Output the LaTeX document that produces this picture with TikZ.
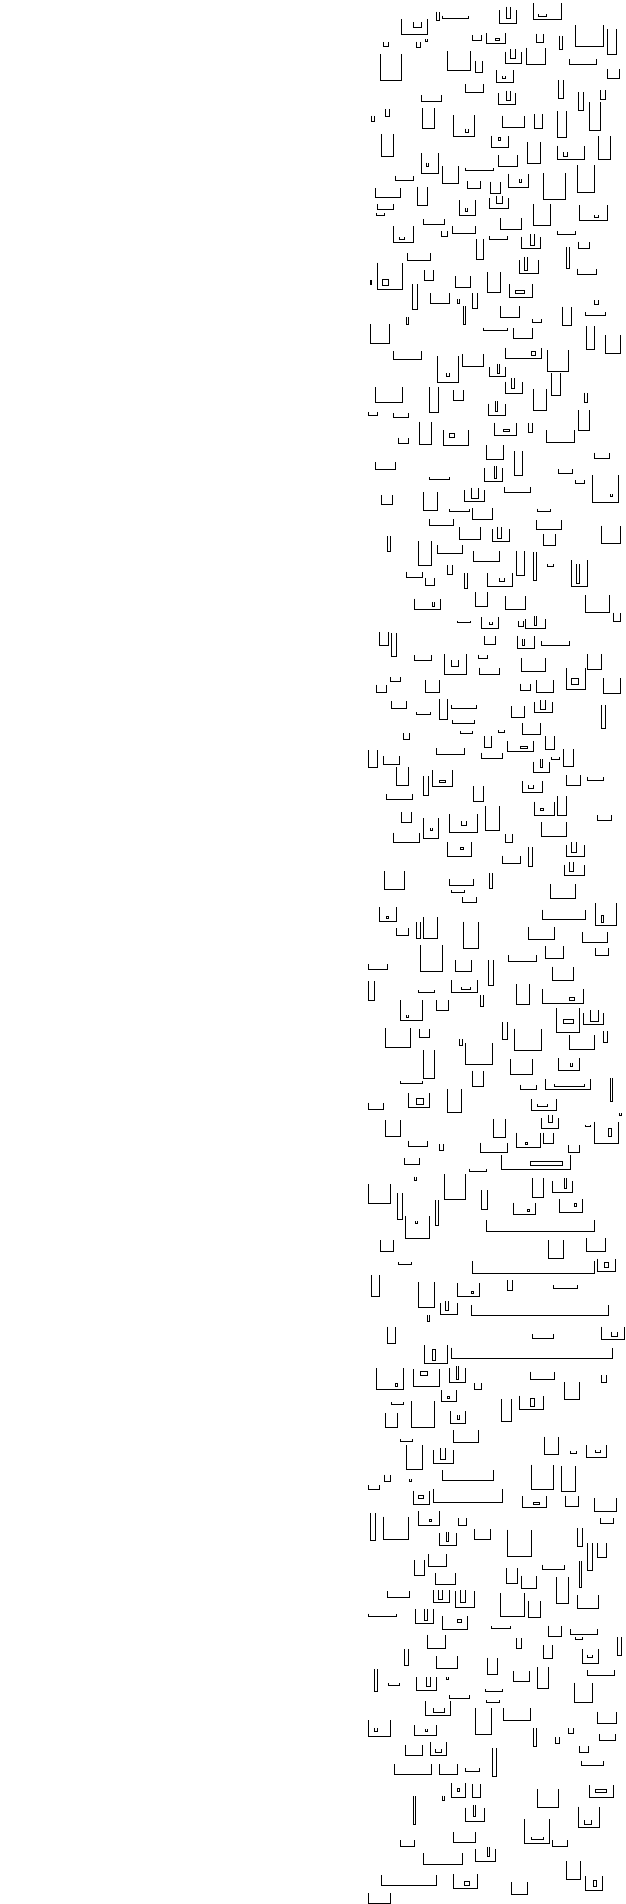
\documentclass[tikz,border=0pt]{standalone}
\usepackage{tikz}

\begin{document}
\begin{tikzpicture}[
  % --- styles ------------------------------------------------------------
  cupline/.style={draw, line width=1pt, line join=miter},
  band/.style={scale=1/3},
  x=1pt, y=-1pt
]
\useasboundingbox (0,0) rectangle (625,1904);

% --------------------- band 1 (top) -------------------------------------
\begin{scope}[shift={(370,0)}, band]
\foreach \xa/\ya/\xb/\yb in {199/35/209/61, 217/47/295/55, 94/57/172/103, 130/66/155/82,
  388/30/440/70, 408/20/421/55, 490/10/575/58, 505/42/530/48, 40/127/56/139,
  138/125/152/142, 166/118/172/125, 307/105/335/121, 349/100/407/130, 499/101/521/127,
  568/107/578/148, 616/75/700/139, 712/88/740/162, 31/162/95/241, 232/154/301/211,
  316/182/338/217, 406/155/454/190, 420/147/437/175, 469/143/527/193, 598/178/680/193,
  712/208/748/235, 379/211/430/246, 397/228/407/236, 286/252/340/277, 565/240/581/295,
  154/285/215/304, 385/280/437/313, 409/272/420/300, 625/277/640/331, 691/270/707/298,
  658/307/690/391, 4/347/14/364, 46/328/59/349, 157/324/193/384, 250/346/313/408,
  287/386/296/397, 397/347/463/382, 493/343/518/384, 562/333/590/411, 34/403/71/468,
  364/407/415/442, 472/427/512/490, 562/437/643/477, 580/457/593/469, 685/409/722/477,
  154/460/205/519, 169/488/176/499, 385/465/442/498, 217/498/266/549, 286/503/371/511,
  76/527/131/541, 292/543/331/564, 415/521/475/563, 447/537/455/547, 622/495/672/578,
  361/545/390/580}
  \draw[cupline] (\xa,\ya) |- (\xb,\yb) -- (\xb,\ya);
\foreach \xa/\ya/\xb/\yb in {376/115/388/121, 385/413/392/420}
  \draw[cupline] (\xa,\ya) rectangle (\xb,\yb);
\end{scope}

% --------------------- band 2 -------------------------------------------
\begin{scope}[shift={(370,190)}, band]
\foreach \xa/\ya/\xb/\yb in {16/-5/92/22, 142/-10/172/46, 520/-50/586/28, 22/42/71/58,
  19/69/44/77, 268/30/317/76, 286/54/293/64, 358/25/415/55, 379/17/397/40,
  490/43/542/106, 628/46/713/91, 673/75/686/82, 160/88/223/103, 391/84/455/119,
  70/108/130/157, 88/141/104/148, 214/124/233/139, 247/109/317/130, 358/138/413/148,
  454/140/511/175, 481/132/493/166, 562/123/617/133, 625/155/659/175, 319/147/341/208,
  589/172/599/235, 112/190/182/211, 448/210/506/250, 464/201/472/241, 622/236/680/253,
  22/218/97/297, 0/270/5/283, 163/240/191/271, 256/258/302/292, 352/246/392/307,
  418/283/488/322, 127/283/143/358, 181/309/239/340, 262/327/269/340, 307/310/323/354,
  280/349/287/403, 109/381/116/403, 391/348/449/382, 487/388/515/397, 577/350/605/406,
  673/331/686/343, 646/367/707/376, 0/402/59/460, 340/413/413/421, 430/414/488/445,
  649/408/673/478, 706/436/752/490, 70/484/155/508, 406/473/515/505, 532/480/596/544,
  202/498/266/577, 229/549/239/559, 277/492/341/529, 358/531/407/558, 381/521/389/549}
  \draw[cupline] (\xa,\ya) |- (\xb,\yb) -- (\xb,\ya);
\foreach \xa/\ya/\xb/\yb in {37/268/55/286, 436/301/464/309, 484/484/496/496}
  \draw[cupline] (\xa,\ya) rectangle (\xb,\yb);
\end{scope}

% --------------------- band 3 -------------------------------------------
\begin{scope}[shift={(370,380)}, band]
\foreach \xa/\ya/\xb/\yb in {406/5/458/40, 424/-5/434/25, 544/-20/572/46, 16/22/98/67,
  178/22/206/97, 250/30/281/61, 490/28/530/91, 643/38/651/67, 355/71/407/106,
  375/63/383/95, -6/97/23/106, 70/100/116/112, 625/90/659/151, 148/125/185/193,
  220/151/296/196, 373/128/440/166, 475/130/486/158, 529/151/614/187, 85/173/116/189,
  349/196/401/238, 433/213/458/286, 673/218/719/235, 16/246/77/268, 178/292/239/298,
  343/264/398/303, 372/258/380/296, 565/268/608/280, 616/300/644/311, 667/286/746/367,
  720/342/728/350, 403/322/482/337, 34/346/68/373, 160/337/203/390, 283/330/344/364,
  303/323/326/354, 238/387/297/394, 307/384/368/418, 502/386/542/394, 178/417/251/436,
  499/420/575/448, 268/441/332/478, 367/448/419/484, 381/440/395/475, 520/463/557/496,
  694/437/752/490, 52/468/62/514, 145/483/185/555, 202/495/278/520, 310/513/389/544,
  532/553/551/560}
  \draw[cupline] (\xa,\ya) |- (\xb,\yb) -- (\xb,\ya);
\foreach \xa/\ya/\xb/\yb in {238/159/254/172, 400/148/418/155}
  \draw[cupline] (\xa,\ya) rectangle (\xb,\yb);
\end{scope}

% --------------------- band 4 -------------------------------------------
\begin{scope}[shift={(370,570)}, band]
\foreach \xa/\ya/\xb/\yb in {109/5/157/22, 166/25/194/46, 232/-15/248/14, 283/10/293/55,
  352/10/428/49, 388/25/403/34, 439/-58/463/16, 490/-53/500/31, 604/-30/653/49,
  619/-18/627/40, 133/86/212/118, 186/96/194/110, 316/67/353/109, 406/78/467/118,
  646/75/719/127, 730/128/750/155, 262/152/302/158, 334/142/386/176, 358/156/368/163,
  445/153/459/170, 465/147/527/176, 493/138/500/166, 28/187/54/226, 64/190/80/260,
  343/198/377/224, 442/197/494/236, 456/208/464/226, 514/214/599/227, 133/256/185/271,
  223/253/290/313, 244/270/266/290, 325/254/353/265, 328/293/389/313, 454/265/527/304,
  652/252/695/298, 61/322/92/334, 19/344/50/368, 166/331/209/368, 451/341/482/362,
  499/331/551/368, 590/295/645/358, 700/324/752/370, 64/393/110/415, 139/427/182/434,
  208/388/233/448, 244/405/320/415, 424/408/464/442, 493/397/548/427, 511/390/526/418,
  694/406/707/475, 247/451/314/461, 271/482/308/490, 385/481/402/488, 457/459/512/493,
  100/490/119/508, 343/498/365/532, 412/514/491/544, 526/499/554/538, 199/535/284/553,
  334/548/398/566, 545/562/567/568}
  \draw[cupline] (\xa,\ya) |- (\xb,\yb) -- (\xb,\ya);
\foreach \xa/\ya/\xb/\yb in {604/326/626/343, 451/529/473/535}
  \draw[cupline] (\xa,\ya) rectangle (\xb,\yb);
\end{scope}

% --------------------- band 5 -------------------------------------------
\begin{scope}[shift={(370,760)}, band]
\foreach \xa/\ya/\xb/\yb in {-6/-30/22/22, 40/-12/89/14, 490/5/538/38, 511/-3/518/22,
  580/-33/611/20, 79/22/116/76, 160/48/176/106, 187/31/248/79, 49/103/128/118,
  310/78/341/124, 457/63/518/97, 475/75/491/86, 589/45/632/76, 652/50/701/61,
  493/125/553/166, 562/108/590/166, 682/166/725/181, 94/157/123/187, 160/175/206/235,
  181/204/188/212, 238/162/323/216, 273/183/288/197, 346/138/389/211, 406/223/428/247,
  70/218/148/247, 514/186/590/229, 232/247/304/289, 397/287/452/310, 475/262/488/319,
  589/255/644/289, 604/246/620/277, 583/314/644/346, 598/306/610/334, 43/333/104/388,
  238/357/311/376, 358/339/368/385, 244/390/284/397, 277/411/320/427, 541/372/617/415,
  28/442/80/484, 517/449/647/478, 676/430/740/495, 79/505/116/527, 139/487/151/535,
  160/472/203/535, 280/485/326/565, 475/502/553/538, 637/517/713/547}
  \draw[cupline] (\xa,\ya) |- (\xb,\yb) -- (\xb,\ya);
\foreach \xa/\ya/\xb/\yb in {208/61/227/67, 511/145/521/152, 271/262/281/268,
  49/468/56/475, 694/466/700/487}
  \draw[cupline] (\xa,\ya) rectangle (\xb,\yb);
\end{scope}

% --------------------- band 6 -------------------------------------------
\begin{scope}[shift={(370,950)}, band]
\foreach \xa/\ya/\xb/\yb in {151/-14/217/64, 415/15/499/34, 526/-12/580/25, 676/-5/716/16,
  -6/43/52/58, 256/30/305/64, 355/30/371/106, 547/50/611/91, -6/93/14/151,
  145/120/194/128, 244/91/323/127, 273/112/302/118, 439/102/479/163, 517/118/640/160,
  331/135/341/169, 91/150/158/211, 108/195/116/203, 199/150/236/181, 559/175/629/247,
  640/189/701/222, 660/180/684/214, 46/234/122/292, 148/237/179/262, 397/217/413/268,
  268/267/278/286, 286/280/368/343, 433/236/515/301, 598/256/674/298, 700/243/713/277,
  160/300/194/385, 421/327/488/373, 565/325/629/361, 600/340/608/350, 307/362/341/409,
  91/394/158/400, 451/404/499/418, 526/387/662/418, 553/402/643/409, 721/385/728/453,
  -6/458/40/478, 115/429/179/472, 232/418/275/487, 484/448/560/481, 502/463/533/469,
  748/490/755/497, 514/504/566/535, 535/494/548/518, 646/524/660/530, 673/515/746/581,
  46/510/91/559, 370/507/407/563}
  \draw[cupline] (\xa,\ya) |- (\xb,\yb) -- (\xb,\ya);
\foreach \xa/\ya/\xb/\yb in {598/142/614/152, 580/208/610/220, 139/445/161/463,
  715/535/725/560}
  \draw[cupline] (\xa,\ya) rectangle (\xb,\yb);
\end{scope}

% --------------------- band 7 -------------------------------------------
\begin{scope}[shift={(370,1140)}, band]
\foreach \xa/\ya/\xb/\yb in {116/2/172/19, 208/12/220/31, 331/8/413/37, 439/-22/511/22,
  519/-22/550/10, 595/15/629/37, 103/55/149/73, 298/86/350/95, 395/45/602/88,
  133/110/140/122, 223/102/287/178, 487/114/521/172, 547/123/608/157, 583/115/590/146,
  -6/133/62/189, 82/160/98/238, 196/181/206/256, 334/151/353/208, 430/188/497/223,
  568/178/638/217, 106/228/179/295, 135/243/143/251, 349/240/674/274, 31/300/71/334,
  535/300/581/355, 649/294/707/334, 85/367/125/374, 307/363/674/400, 682/356/737/394,
  4/406/29/468, 412/420/428/451, 550/436/623/446, 145/427/194/502, 262/430/329/469,
  211/490/263/522, 226/483/236/511, 304/496/716/526, 171/525/179/545}
  \draw[cupline] (\xa,\ya) |- (\xb,\yb) -- (\xb,\ya);
\foreach \xa/\ya/\xb/\yb in {465/7/473/14, 481/64/578/77, 471/207/479/215,
  613/189/620/200, 703/367/716/382, 303/453/311/461}
  \draw[cupline] (\xa,\ya) rectangle (\xb,\yb);
\end{scope}

% --------------------- band 8 -------------------------------------------
\begin{scope}[shift={(370,1330)}, band]
\foreach \xa/\ya/\xb/\yb in {52/-10/76/40, 487/12/551/26, 694/-10/762/29, 724/5/743/20,
  163/46/233/100, 244/53/728/85, 19/115/101/178, 130/117/209/169, 238/115/287/157,
  259/108/266/148, 481/125/554/149, 694/136/710/158, 313/160/335/179, 583/156/629/209,
  214/180/260/214, 448/197/521/238, 64/216/101/224, 394/208/425/274, 46/250/83/292,
  124/213/193/292, 241/244/287/280, 262/256/269/268, 250/300/326/338, 91/328/128/335,
  523/320/566/373, 601/362/620/371, 649/345/710/382, 676/361/690/367, 109/345/158/418,
  190/361/251/401, 211/354/227/389, 43/434/62/455, 118/447/125/455, 217/421/371/451,
  484/404/551/478, 574/409/617/484, -6/466/29/478, 130/482/179/522, 190/478/398/517,
  457/498/530/532, 586/497/626/529, 673/505/740/544}
  \draw[cupline] (\xa,\ya) |- (\xb,\yb) -- (\xb,\ya);
\foreach \xa/\ya/\xb/\yb in {187/58/196/92, 75/159/83/170, 151/124/172/136,
  232/199/239/206, 481/205/493/230, 145/496/161/505, 489/516/509/523}
  \draw[cupline] (\xa,\ya) rectangle (\xb,\yb);
\end{scope}

% --------------------- band 9 -------------------------------------------
\begin{scope}[shift={(370,1520)}, band]
\foreach \xa/\ya/\xb/\yb in {0/-20/17/61, 40/-10/116/58, 145/-27/209/16, 265/-5/289/16,
  691/-5/731/10, 208/40/260/76, 229/36/236/65, 313/27/361/58, 412/29/485/109,
  622/25/638/79, 652/70/668/151, 682/70/710/112, 133/121/164/166, 175/103/230/139,
  517/134/584/148, 628/124/635/202, 409/145/443/190, 454/167/500/205, 196/160/257/193,
  559/171/596/250, 52/214/118/232, 190/210/239/247, 205/210/218/238, 256/214/314/262,
  271/210/287/246, 391/220/464/289, 475/242/512/292, 622/226/686/265, -6/281/80/289,
  136/268/190/310, 162/267/172/302, 217/289/293/327, 364/319/422/325, 535/317/575/349,
  601/327/683/343, 616/351/638/358, 172/344/227/385, 439/354/455/385, 742/352/755/406,
  103/388/115/436, 520/376/548/415, 637/387/686/430, 652/404/667/411, 199/408/263/445,
  352/413/383/463, 13/448/22/514, 55/490/89/496, 139/471/200/511, 169/471/182/498,
  229/471/235/479, 430/454/479/484, 502/442/536/505, 652/451/734/466, 346/507/397/514,
  613/488/667/547, 238/525/299/535, 349/541/389/548}
  \draw[cupline] (\xa,\ya) |- (\xb,\yb) -- (\xb,\ya);
\foreach \xa/\ya/\xb/\yb in {178/-2/185/5, 262/298/274/306}
  \draw[cupline] (\xa,\ya) rectangle (\xb,\yb);
\end{scope}

% --------------------- band 10 (bottom) ---------------------------------
\begin{scope}[shift={(370,1710)}, band]
\foreach \xa/\ya/\xb/\yb in {166/-27/241/16, 190/-5/223/7, 316/-5/364/73, 400/-5/481/31,
  682/5/740/40, -6/31/61/79, 13/55/22/64, 133/46/199/76, 166/57/173/64, 490/55/499/109,
  556/81/569/100, 595/55/611/70, 688/73/737/91, 106/106/157/136, 181/97/229/136,
  196/118/213/127, 367/115/380/199, 628/109/656/127, 634/152/701/166, 73/163/184/193,
  208/162/263/193, 286/175/329/184, 244/220/287/262, 307/223/331/262, 658/226/731/262,
  217/257/223/272, 502/238/566/292, 130/259/137/343, 286/293/344/334, 310/286/317/320,
  625/290/689/352, 643/330/665/343, 463/327/539/400, 484/382/520/389, 91/391/134/409,
  250/367/317/398, 547/391/593/409, 316/418/377/454, 352/412/359/440, 160/430/278/463,
  589/454/632/508, 34/496/199/526, 250/493/323/535, 646/499/698/541, 424/516/472/553,
  -6/550/61/580}
  \draw[cupline] (\xa,\ya) |- (\xb,\yb) -- (\xb,\ya);
\foreach \xa/\ya/\xb/\yb in {262/235/269/244, 676/238/710/247, 283/514/299/526,
  670/511/680/529}
  \draw[cupline] (\xa,\ya) rectangle (\xb,\yb);
\end{scope}

\end{tikzpicture}
\end{document}
